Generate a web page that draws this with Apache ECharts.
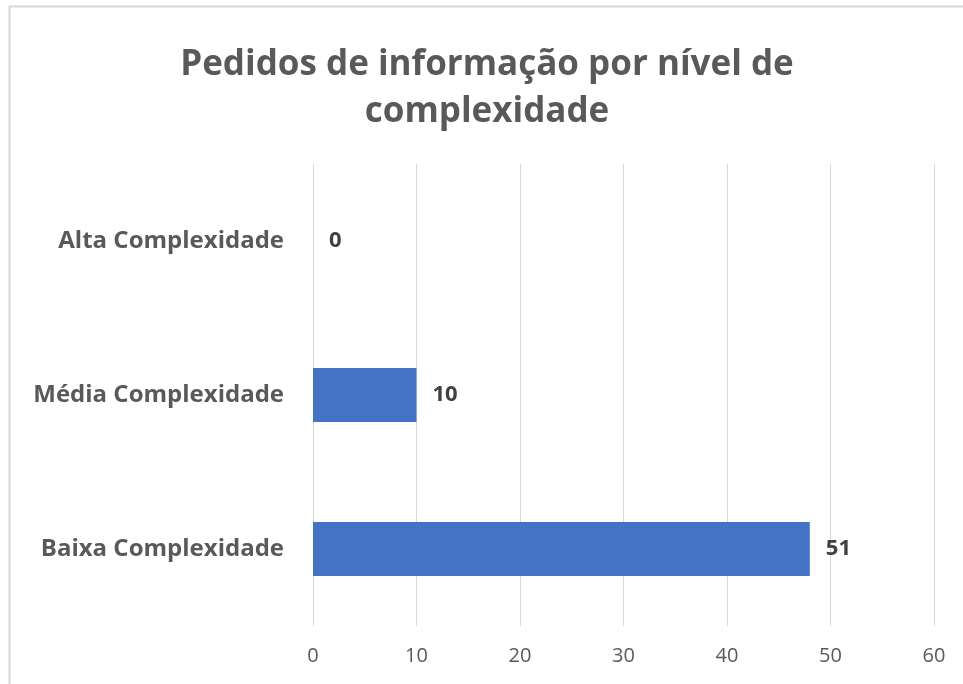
<!DOCTYPE html>
<html><head><meta charset="utf-8">
<script src="https://cdn.jsdelivr.net/npm/echarts@6/dist/echarts.min.js"></script>
<style>html,body{margin:0;padding:0;background:#fff}#c{width:963px;height:684px}</style>
</head><body><div id="c"></div>
<script>
const titleText = 'Pedidos de informação por nível de\ncomplexidade';
const categories = ['Baixa Complexidade', 'Média Complexidade', 'Alta Complexidade'];
const barValues = [48, 10, 0];
const labelTexts = ['51', '10', '0'];
const xTicks = [0, 10, 20, 30, 40, 50, 60];

const chart = echarts.init(document.getElementById('c'));
const font = '"Open Sans", "Noto Sans", sans-serif';
chart.setOption({
  animation: false,
  backgroundColor: '#fff',
  title: {
    text: titleText, left: 482, top: 37, textAlign: 'center',
    textStyle: { fontFamily: font, fontWeight: 'bold', fontSize: 35, color: '#595959', lineHeight: 47 }
  },
  graphic: [
    { type: 'line', shape: { x1: 9, y1: 6.5, x2: 963, y2: 6.5 }, style: { stroke: '#d9d9d9', lineWidth: 2 } },
    { type: 'line', shape: { x1: 9.5, y1: 6, x2: 9.5, y2: 684 }, style: { stroke: '#d9d9d9', lineWidth: 2 } }
  ],
  grid: { left: 313, right: 29, top: 164, bottom: 58, containLabel: false },
  xAxis: {
    type: 'value', min: xTicks[0], max: xTicks[xTicks.length - 1], interval: 10,
    axisLine: { show: false }, axisTick: { show: false },
    splitLine: { show: true, lineStyle: { color: '#d9d9d9', width: 1 } },
    axisLabel: { fontFamily: font, fontSize: 20, color: '#595959', margin: 20 }
  },
  yAxis: {
    type: 'category', data: categories,
    axisLine: { show: false }, axisTick: { show: false },
    axisLabel: { fontFamily: font, fontWeight: 'bold', fontSize: 24, color: '#595959', margin: 29 }
  },
  series: [{
    type: 'bar', data: barValues, barWidth: '35%',
    itemStyle: { color: '#4472c4' },
    label: {
      show: true, position: 'right', distance: 16,
      formatter: p => labelTexts[p.dataIndex],
      fontFamily: font, fontWeight: 'bold', fontSize: 22, color: '#404040'
    }
  }]
});
</script></body></html>
